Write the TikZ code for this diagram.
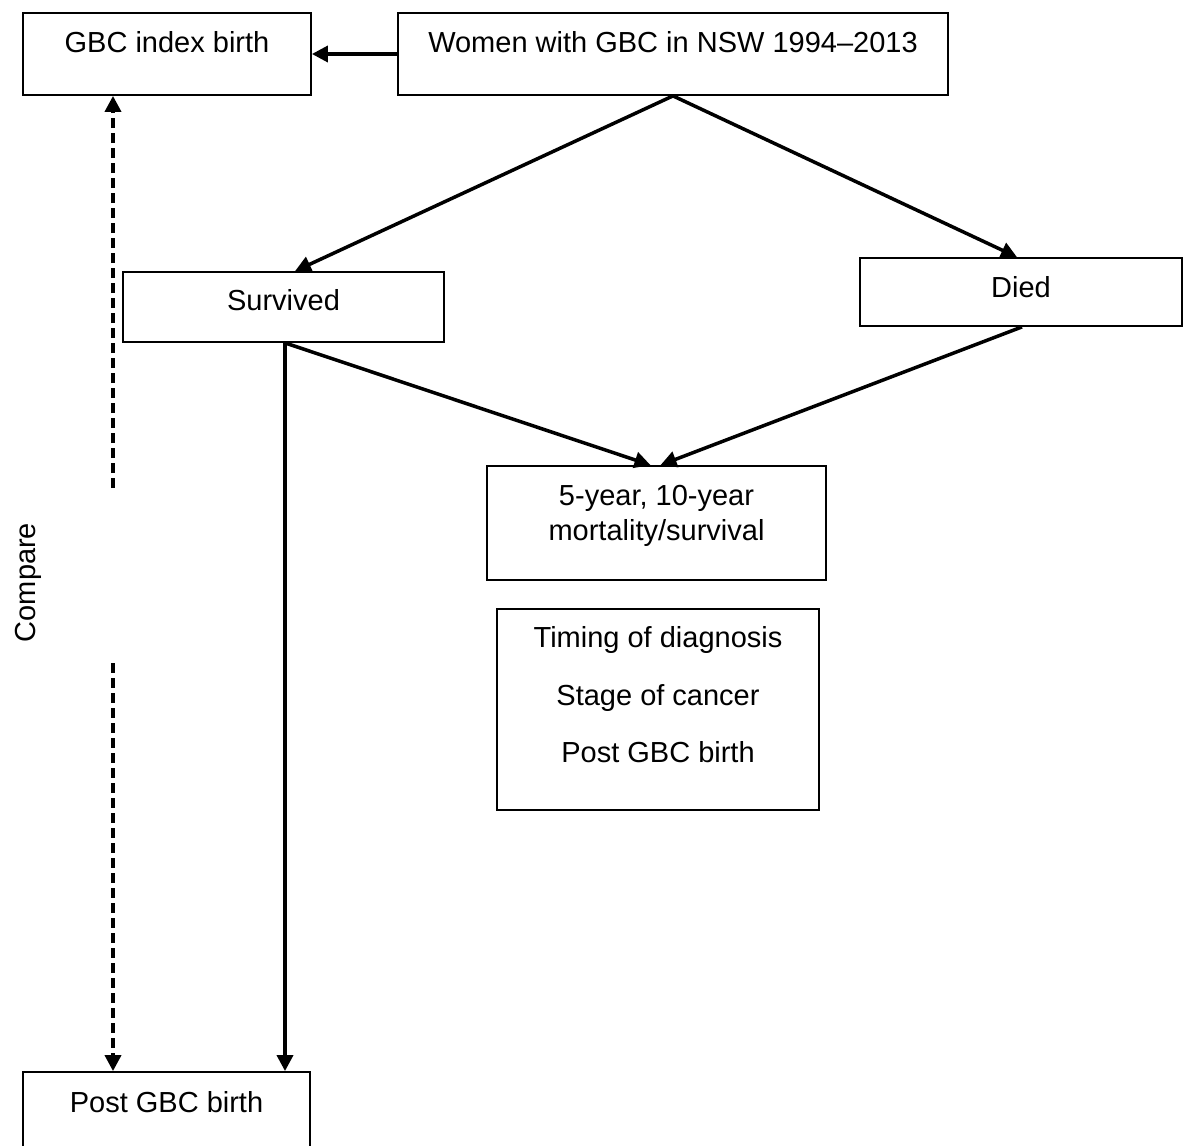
\documentclass[tikz,border=0pt]{standalone}
\usepackage{fontspec}
\setmainfont{Liberation Sans}
\usetikzlibrary{arrows.meta,calc}

\tikzset{
  box/.style={draw, line width=1.8pt, inner sep=0pt, rectangle},
  lbl/.style={anchor=base, inner sep=0pt, font=\fontsize{29}{34}\selectfont},
  conn/.style={line width=3.5pt, -{Triangle[length=16pt,width=16pt]}},
  cmp/.style={line width=3.6pt, dash pattern=on 10pt off 5pt, -{Triangle[length=16pt,width=16pt]}}
}

\begin{document}
\begin{tikzpicture}[x=1pt,y=-1pt]
  \clip (0,0) rectangle (1187,1146);
  \fill[white] (0,0) rectangle (1187,1146);

  % boxes
  \node[box, minimum width=288pt, minimum height=82pt] (gbc) at (167,54) {};
  \node[box, minimum width=550pt, minimum height=82pt] (women) at (673,54) {};
  \node[box, minimum width=321pt, minimum height=70pt] (surv) at (283.5,307) {};
  \node[box, minimum width=322pt, minimum height=68pt] (died) at (1021,292) {};
  \node[box, minimum width=339pt, minimum height=114pt] (mort) at (656.5,523) {};
  \node[box, minimum width=322pt, minimum height=201pt] (factors) at (658,709.5) {};
  \node[box, minimum width=287pt, minimum height=88pt] (post) at (166.5,1116) {};

  % box texts
  \node[lbl] (tgbc) at (167,52) {GBC index birth};
  \node[lbl] (twomen) at (673,52) {Women with GBC in NSW 1994--2013};
  \node[lbl] (tsurv) at (283.5,310) {Survived};
  \node[lbl] (tdied) at (1021,297) {Died};
  \node[lbl] (tmort1) at (656.5,505) {5-year, 10-year};
  \node[lbl] (tmort2) at (656.5,540) {mortality/survival};
  \node[lbl] (tf1) at (658,647) {Timing of diagnosis};
  \node[lbl] (tf2) at (658,705) {Stage of cancer};
  \node[lbl] (tf3) at (658,762) {Post GBC birth};
  \node[lbl] (tpost) at (166.5,1112) {Post GBC birth};
  \node[lbl, rotate=90] (tcmp) at (35,582.5) {Compare};

  % free ends of the dashed comparison arrows
  \coordinate (cmpup) at (113,488);
  \coordinate (cmpdown) at (113,663);

  % connectors
  \draw[conn] (women.west) -- (gbc.east);
  \draw[conn] (women.south) -- ([xshift=11.5pt]surv.north);
  \draw[conn] (women.south) -- ([xshift=-4pt]died.north);
  \draw[conn] ([xshift=1.5pt]surv.south) -- ([xshift=-6pt]mort.north);
  \draw[conn] ([xshift=1pt]died.south) -- ([xshift=4pt]mort.north);
  \draw[conn] ([xshift=1.5pt]surv.south) -- ([xshift=1.5pt]surv.south |- post.north);
  \draw[cmp] (cmpup) -- (cmpup |- gbc.south);
  \draw[cmp] (cmpdown) -- (cmpdown |- post.north);
\end{tikzpicture}
\end{document}
